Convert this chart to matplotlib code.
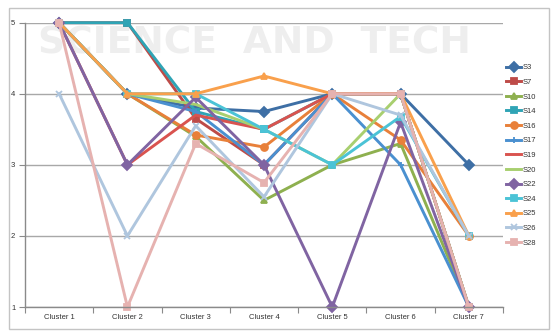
import matplotlib
matplotlib.use("Agg")
import matplotlib.pyplot as plt
from matplotlib.patches import Rectangle
import numpy as np

plt.rcParams['font.family'] = ['Liberation Sans', 'DejaVu Sans']

clusters = ["Cluster 1", "Cluster 2", "Cluster 3", "Cluster 4", "Cluster 5", "Cluster 6", "Cluster 7"]

S3 = [5, 4, 3.8, 3.75, 4, 4, 3]
S7 = [5, 5, 3.65, 3.0, 4, 4, 1]
S10 = [5, 4, 3.4, 2.5, 3, 3.3, 1]
S14 = [5, 5, 3.75, 3.5, 4, 4, 1]
S16 = [5, 4, 3.42, 3.25, 4, 3.35, 2]
S17 = [5, 4, 3.75, 3.0, 4, 3.0, 1]
S19 = [5, 3, 3.7, 3.5, 4, 4, 1]
S20 = [5, 4, 3.85, 3.5, 3, 4, 1]
S22 = [5, 3, 3.95, 3.0, 1, 3.6, 1]
S24 = [5, 4, 4, 3.5, 3, 3.68, 2]
S25 = [5, 4, 4, 4.25, 4, 4, 2]
S26 = [4, 2, 3.55, 2.55, 4, 3.7, 2]
S28 = [5, 1, 3.3, 2.75, 4, 4, 1]

series = [
    ("S3", S3, '#3E6FA5', 'D'),
    ("S7", S7, '#BE4B48', 's'),
    ("S10", S10, '#8EB04F', '^'),
    ("S14", S14, '#2FA4B5', 's'),
    ("S16", S16, '#E8803A', 'o'),
    ("S17", S17, '#4A90D0', '+'),
    ("S19", S19, '#D9534F', None),
    ("S20", S20, '#A8CF6F', None),
    ("S22", S22, '#8064A2', 'D'),
    ("S24", S24, '#4BC3D6', 's'),
    ("S25", S25, '#F9A04C', '^'),
    ("S26", S26, '#AFC6DE', 'x'),
    ("S28", S28, '#E6B2B0', 's'),
]

W, H = 551, 331
fig = plt.figure(figsize=(W / 100, H / 100), dpi=100)
fig.patch.set_facecolor('white')

# outer frame
fig.patches.append(Rectangle((9 / W, 1 - 329 / H), (549 - 9) / W, (329 - 8) / H,
                             transform=fig.transFigure, fill=False,
                             edgecolor='#c4c4c4', linewidth=1.0, zorder=-5))

# faint background lettering
fig.text(38 / W, 1 - 54 / H, "SCIENCE  AND  TECH", fontsize=27,
         fontweight='bold', color='#eeeeee', zorder=-4,
         family=['DejaVu Sans'])

ax = fig.add_axes([25 / W, 1 - 307 / H, (503 - 25) / W, (307 - 22.7) / H])
ax.set_facecolor('none')
ax.set_zorder(1)

x = np.arange(len(clusters))
for name, vals, col, mk in series:
    ax.plot(x, vals, color=col, linewidth=2.1, marker=mk, markersize=5,
            markerfacecolor=col, markeredgecolor=col, markeredgewidth=1.3,
            label=name, clip_on=False)

ax.set_xlim(-0.5, len(clusters) - 0.5)
ax.set_ylim(1, 5)
ax.set_yticks([1, 2, 3, 4, 5])
ax.set_yticklabels(["1", "2", "3", "4", "5"], fontsize=5.5, color='#333333')
ax.yaxis.grid(True, color='#a8a8a8', linewidth=1.0)
ax.set_axisbelow(True)

ax.set_xticks(np.arange(-0.5, len(clusters), 1.0))
ax.set_xticklabels([])
ax.set_xticks(x, minor=True)
ax.set_xticklabels(clusters, minor=True, fontsize=5.5, color='#333333')
ax.tick_params(axis='x', which='major', length=4, color='#8a8a8a', width=0.8)
ax.tick_params(axis='x', which='minor', length=0, pad=5)
ax.tick_params(axis='y', length=4, color='#8a8a8a', width=0.8, pad=3)

for side in ['top', 'right']:
    ax.spines[side].set_visible(False)
for side in ['left', 'bottom']:
    ax.spines[side].set_color('#8a8a8a')
    ax.spines[side].set_linewidth(1.0)

leg = ax.legend(loc='upper left', bbox_to_anchor=(506 / W, 1 - 64 / H),
                bbox_transform=fig.transFigure, frameon=False, fontsize=5.5,
                handlelength=2.0, handletextpad=0.2, labelspacing=0.95,
                borderpad=0, borderaxespad=0)
for t in leg.get_texts():
    t.set_color('#333333')

fig.savefig("out.png", dpi=100)
